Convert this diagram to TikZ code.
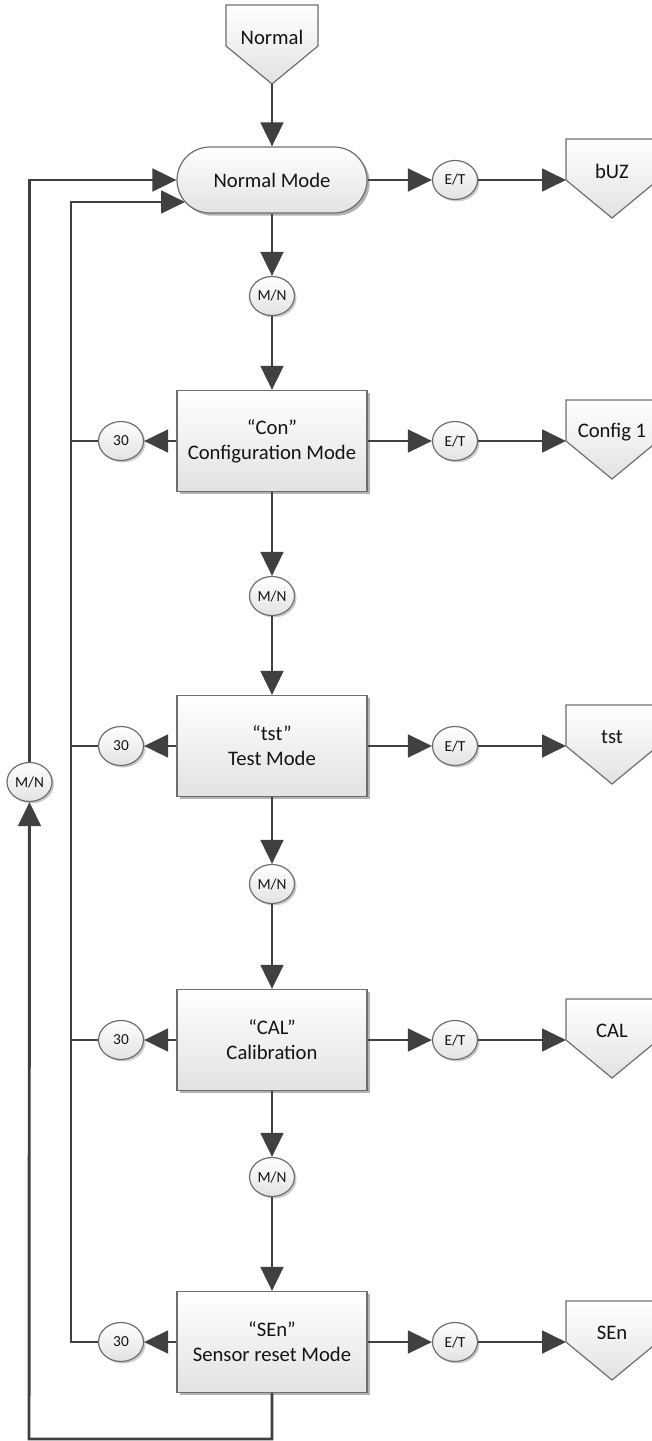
\documentclass[tikz,border=0pt]{standalone}
\usepackage{fontspec}
\setmainfont{Carlito}
\usetikzlibrary{arrows.meta,shapes.geometric,shadows}

\definecolor{linegray}{HTML}{404040}
\definecolor{edgegray}{HTML}{6E6E6E}
\definecolor{fillgray}{HTML}{E2E2E2}

\begin{document}
\begin{tikzpicture}[x=0.75pt,y=-0.75pt,
    every node/.style={text=black!92,font=\fontsize{15.5}{18.75}\selectfont},
    conn/.style={draw=linegray,line width=2.2pt,-{Triangle[length=18pt,width=17pt]}},
    bus/.style={draw=linegray,line width=2.2pt},
    shade/.style={draw=edgegray,line width=0.9pt,top color=white,bottom color=fillgray},
    mode/.style={shade,minimum width=142.5pt,minimum height=75.75pt,align=center,inner sep=0pt,
      drop shadow={shadow xshift=2pt,shadow yshift=-2pt,opacity=0.3,fill=black}},
    start/.style={mode,minimum height=49.5pt,rounded corners=24.75pt},
    key/.style={ellipse,shade,minimum width=33.75pt,minimum height=29.25pt,inner sep=0pt,
      font=\fontsize{11.5}{13}\selectfont,
      drop shadow={shadow xshift=1.5pt,shadow yshift=-1.5pt,opacity=0.2,fill=black}},
    offpg/.pic={
      \draw[shade] (-46,0) -- (46,0) -- (46,41) -- (0,79) -- (-46,41) -- cycle;
      \node (-lbl) at (0,32) {#1};
      \coordinate (-in) at (-46,41);
      \coordinate (-out) at (0,79);
    }]
  \useasboundingbox (0,0) rectangle (652,1441);

  % main column
  \pic (pN) at (272,5) {offpg=Normal};
  \node[start] (NM) at (272,180) {Normal Mode};
  \node[key] (mn1) at (272,296) {M/N};
  \node[mode] (con) at (272,441) {“Con”\\Configuration Mode};
  \node[key] (mn2) at (272,596) {M/N};
  \node[mode] (tst) at (272,746) {“tst”\\Test Mode};
  \node[key] (mn3) at (272,884) {M/N};
  \node[mode] (cal) at (272,1040) {“CAL”\\Calibration};
  \node[key] (mn4) at (272,1177) {M/N};
  \node[mode] (sen) at (272,1342) {“SEn”\\Sensor reset Mode};

  % right side
  \node[key] (et1) at (455,180) {E/T};
  \node[key] (et2) at (455,441) {E/T};
  \node[key] (et3) at (455,746) {E/T};
  \node[key] (et4) at (455,1040) {E/T};
  \node[key] (et5) at (455,1342) {E/T};
  \pic (pB) at (612,139) {offpg=bUZ};
  \pic (pC) at (612,400) {offpg=Config 1};
  \pic (pT) at (612,705) {offpg=tst};
  \pic (pA) at (612,999) {offpg=CAL};
  \pic (pS) at (612,1301) {offpg=SEn};

  % left side
  \node[key] (t2) at (121,441) {30};
  \node[key] (t3) at (121,746) {30};
  \node[key] (t4) at (121,1040) {30};
  \node[key] (t5) at (121,1342) {30};
  \node[key] (mnL) at (29.5,782) {M/N};
  \coordinate (ib) at (71,202);
  \coordinate (nmin) at (185,202);
  \coordinate (ob) at (29,1439);

  \draw[conn] (pN-out) -- (NM);
  \draw[conn] (NM) -- (mn1);
  \draw[conn] (mn1) -- (con);
  \draw[conn] (con) -- (mn2);
  \draw[conn] (mn2) -- (tst);
  \draw[conn] (tst) -- (mn3);
  \draw[conn] (mn3) -- (cal);
  \draw[conn] (cal) -- (mn4);
  \draw[conn] (mn4) -- (sen);

  \draw[conn] (NM) -- (et1);
  \draw[conn] (et1) -- (pB-in);
  \draw[conn] (con) -- (et2);
  \draw[conn] (et2) -- (pC-in);
  \draw[conn] (tst) -- (et3);
  \draw[conn] (et3) -- (pT-in);
  \draw[conn] (cal) -- (et4);
  \draw[conn] (et4) -- (pA-in);
  \draw[conn] (sen) -- (et5);
  \draw[conn] (et5) -- (pS-in);

  \draw[conn] (con) -- (t2);
  \draw[conn] (tst) -- (t3);
  \draw[conn] (cal) -- (t4);
  \draw[conn] (sen) -- (t5);

  \draw[conn] (t5) -| (ib) -- (nmin);
  \draw[bus] (t2) -- (t2 -| ib);
  \draw[bus] (t3) -- (t3 -| ib);
  \draw[bus] (t4) -- (t4 -| ib);

  \draw[conn] (sen) |- (ob) -- (mnL);
  \draw[conn] (mnL) |- (NM);
\end{tikzpicture}
\end{document}
